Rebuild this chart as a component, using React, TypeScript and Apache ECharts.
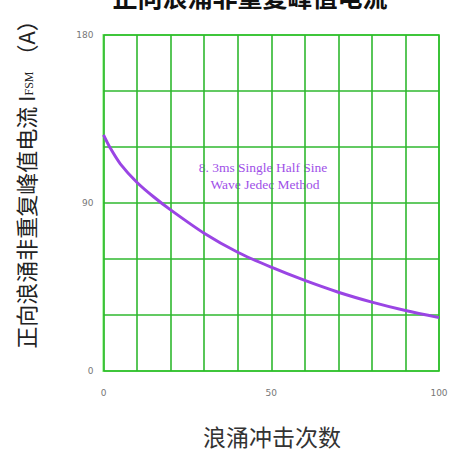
import React, { useEffect, useRef } from "react";
import * as echarts from "echarts";

const surgeCounts = [0, 2, 5, 10, 15, 20, 30, 40, 50, 60, 70, 80, 90, 100];
const peakCurrent = [126.5, 119.5, 111, 101, 93.2, 86.3, 73.8, 63.6, 55.6, 48.5, 42.2, 36.9, 32.4, 28.6];
const xLabelsShown = [0, 50, 100];
const yLabelsShown = [0, 90, 180];
const titleText = "正向浪涌非重复峰值电流";
const xName = "浪涌冲击次数";
const yNameMain = "正向浪涌非重复峰值电流 I";
const yNameSub = "FSM";
const yNameUnit = " （A）";
const noteLines = ["8. 3ms Single Half Sine", "Wave Jedec Method"];

export default function App() {
  const ref = useRef<HTMLDivElement>(null);
  useEffect(() => {
    if (!ref.current) return;
    const chart = echarts.init(ref.current, undefined, { renderer: "svg" });
    const data = surgeCounts.map((x, i) => [x, peakCurrent[i]]);
    chart.setOption({
      animation: false,
      backgroundColor: "#ffffff",
      grid: {
        left: 103.5,
        right: 17,
        top: 35,
        bottom: 81,
        show: true,
        borderColor: "#6fef5f",
        borderWidth: 2,
      },
      xAxis: {
        type: "value",
        min: 0,
        max: 100,
        interval: 10,
        axisLine: { show: false },
        axisTick: { show: false },
        splitLine: { show: true, lineStyle: { color: "#2fb82f", width: 1.6 } },
        axisLabel: {
          margin: 17,
          fontSize: 9,
          color: "#777",
          fontFamily: "DejaVu Sans",
          formatter: (v: number) => (xLabelsShown.includes(v) ? String(v) : ""),
        },
      },
      yAxis: {
        type: "value",
        min: 0,
        max: 180,
        interval: 30,
        axisLine: { show: false },
        axisTick: { show: false },
        splitLine: { show: true, lineStyle: { color: "#2fb82f", width: 1.6 } },
        axisLabel: {
          margin: 10,
          fontSize: 9,
          color: "#777",
          fontFamily: "DejaVu Sans",
          formatter: (v: number) => (yLabelsShown.includes(v) ? String(v) : ""),
        },
      },
      series: [
        {
          type: "line",
          data,
          smooth: 0.3,
          showSymbol: false,
          lineStyle: { color: "#9a45e4", width: 3 },
          z: 5,
        },
      ],
      graphic: [
        {
          type: "text",
          x: 250,
          y: 8,
          style: {
            text: titleText,
            align: "center",
            verticalAlign: "bottom",
            fontSize: 25,
            fontWeight: "bold",
            fontFamily: "Noto Sans CJK SC",
            fill: "#111",
          },
        },
        {
          type: "text",
          x: 272,
          y: 436,
          style: {
            text: xName,
            align: "center",
            verticalAlign: "middle",
            fontSize: 23,
            fontFamily: "Noto Sans CJK SC",
            fill: "#333",
          },
        },
        {
          type: "text",
          x: 25,
          y: 179,
          rotation: Math.PI / 2,
          style: {
            text: `{a|${yNameMain}}{b|${yNameSub}}{a|${yNameUnit}}`,
            align: "center",
            verticalAlign: "middle",
            rich: {
              a: { fontSize: 22, fontFamily: "Noto Sans CJK SC", fill: "#222", color: "#222" },
              b: { fontSize: 12, fontFamily: "Liberation Serif", fill: "#222", color: "#222", padding: [8, 0, 0, 0] },
            },
          },
        },
        {
          type: "text",
          x: 263,
          y: 167,
          style: {
            text: noteLines[0],
            align: "center",
            verticalAlign: "middle",
            fontSize: 13.5,
            fontFamily: "Liberation Serif",
            fill: "#a050e8",
          },
        },
        {
          type: "text",
          x: 265,
          y: 184,
          style: {
            text: noteLines[1],
            align: "center",
            verticalAlign: "middle",
            fontSize: 13.5,
            fontFamily: "Liberation Serif",
            fill: "#a050e8",
          },
        },
      ],
    });
    return () => chart.dispose();
  }, []);
  return (
    <div
      ref={ref}
      style={{ position: "fixed", left: 0, top: 0, width: 456, height: 452 }}
    />
  );
}
